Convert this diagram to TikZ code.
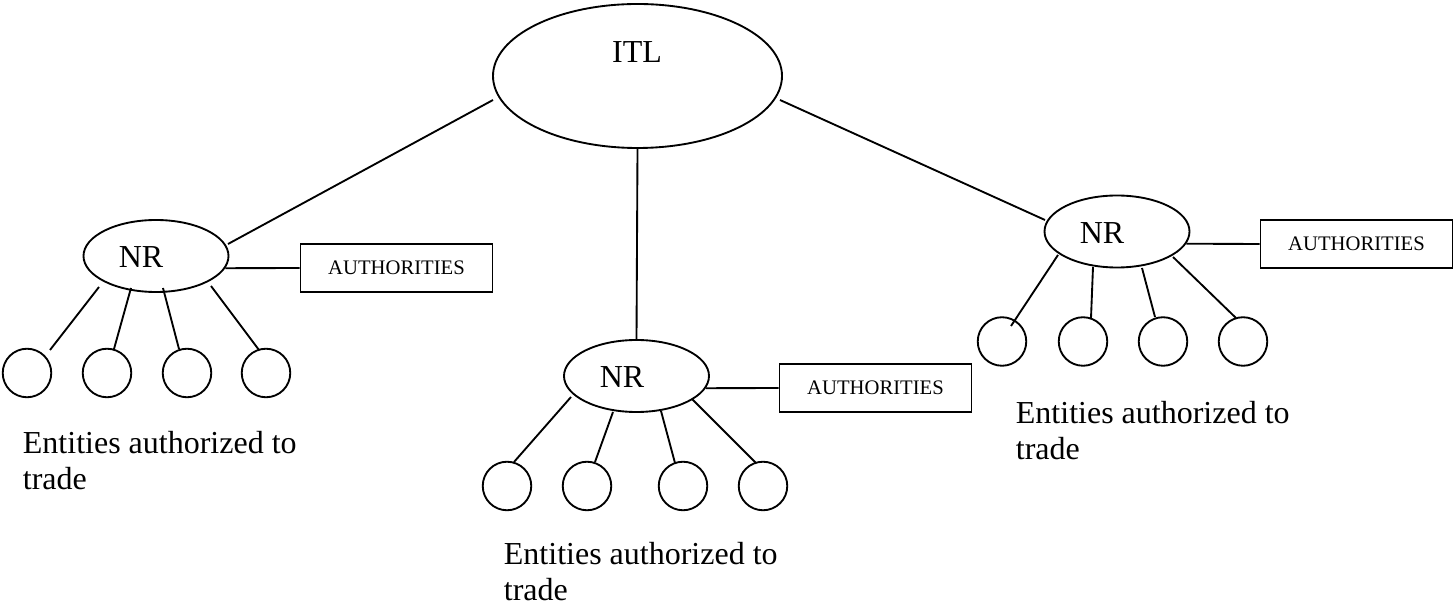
\documentclass[tikz,border=0pt]{standalone}
\usepackage{fontspec}
\setmainfont{Liberation Serif}
\usetikzlibrary{shapes.geometric,calc}
\begin{document}
\begin{tikzpicture}[x=0.75pt,y=-0.75pt,
  every path/.style={line width=1.4pt},
  bigell/.style={draw,ellipse,inner sep=0pt,minimum width=216.75pt,minimum height=108pt},
  nrell/.style={draw,ellipse,inner sep=0pt,minimum width=108.75pt,minimum height=54pt},
  leaf/.style={draw,circle,inner sep=0pt,minimum size=36.4pt},
  authbox/.style={draw,rectangle,inner sep=0pt,minimum width=144pt,minimum height=36pt,font=\fontsize{15.5}{18}\selectfont},
  lbl/.style={inner sep=0pt,font=\fontsize{24}{27}\selectfont},
  ent/.style={inner sep=0pt,anchor=north west,align=left,font=\fontsize{24}{27}\selectfont}]
\path[use as bounding box] (0,0) rectangle (1453,605);

% ITL
\node[bigell] (itl) at (637.5,76) {};
\node[lbl] (itlt) at (637,52) {ITL};

% NR ellipses
\node[nrell] (nrL) at (156,256) {};
\node[lbl] (nrLt) at (141,257) {NR};
\node[nrell] (nrC) at (636.5,376) {};
\node[lbl] (nrCt) at (622,377) {NR};
\node[nrell] (nrR) at (1117,231.5) {};
\node[lbl] (nrRt) at (1102,233) {NR};

% authorities
\node[authbox] (auL) at (396.5,268) {AUTHORITIES};
\node[authbox] (auC) at (875.5,388) {AUTHORITIES};
\node[authbox] (auR) at (1356.5,244) {AUTHORITIES};

% leaves
\node[leaf] (l1) at (27,373) {};
\node[leaf] (l2) at (107,373) {};
\node[leaf] (l3) at (187,373) {};
\node[leaf] (l4) at (266,373) {};
\node[leaf] (c1) at (507,486) {};
\node[leaf] (c2) at (587,486) {};
\node[leaf] (c3) at (683,486) {};
\node[leaf] (c4) at (763,486) {};
\node[leaf] (r1) at (1002,341.5) {};
\node[leaf] (r2) at (1083,341.5) {};
\node[leaf] (r3) at (1163,341.5) {};
\node[leaf] (r4) at (1243,341.5) {};

% texts
\node[ent] (entL) at (22,430.5) {Entities authorized to\\trade};
\node[ent] (entC) at (503,541.5) {Entities authorized to\\trade};
\node[ent] (entR) at (1015,400.5) {Entities authorized to\\trade};

% ITL connectors
\draw ($(itl)+(-144.5,24)$) -- ($(nrL)+(72,-12)$);
\draw ($(itl)+(142.5,24)$) -- ($(nrR)+(-72,-11.5)$);
\draw (itl.south) -- (nrC.north);

% authority connectors
\draw (nrL.-10) -- (auL.west);
\draw (nrC.-10) -- (auC.west);
\draw (nrR.-10) -- (auR.west);

% left leaves
\draw ($(nrL)+(-57,31)$) -- ($(l1)+(23,-23)$);
\draw ($(nrL)+(-25,32)$) -- ($(l2)+(7,-24)$);
\draw ($(nrL)+(7,32)$) -- ($(l3)+(-8,-24)$);
\draw ($(nrL)+(55,30)$) -- ($(l4)+(-7,-23)$);

% center leaves
\draw ($(nrC)+(-65.5,21)$) -- ($(c1)+(7,-24)$);
\draw ($(nrC)+(-23.5,36)$) -- ($(c2)+(8,-24)$);
\draw ($(nrC)+(24.5,35)$) -- ($(c3)+(-8,-23)$);
\draw ($(nrC)+(55.5,23)$) -- ($(c4)+(-7,-23)$);

% right leaves
\draw ($(nrR)+(-59,23.5)$) -- ($(r1)+(9,-15.5)$);
\draw ($(nrR)+(-24,35.5)$) -- ($(r2)+(8,-23.5)$);
\draw ($(nrR)+(25,36.5)$) -- ($(r3)+(-8,-24.5)$);
\draw ($(nrR)+(56,25.5)$) -- ($(r4)+(-7,-23.5)$);
\end{tikzpicture}
\end{document}
